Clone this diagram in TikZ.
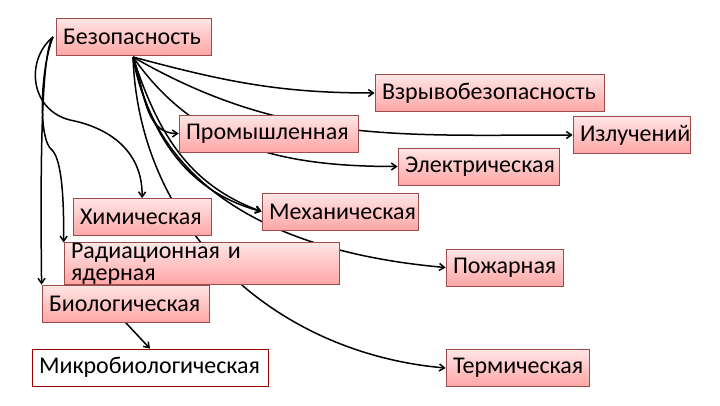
\documentclass[tikz,border=0pt]{standalone}
\usepackage{fontspec}
\setmainfont{Carlito}[Scale=1.2]
\usetikzlibrary{arrows.meta}
\pgfdeclarelayer{bg}
\pgfsetlayers{bg,main}
\begin{document}
\begin{tikzpicture}[x=1pt,y=-1pt,
  box/.style={draw=red!45!black!70, line width=0.8pt, top color=red!10, bottom color=red!35, minimum height=37pt, inner ysep=0pt, inner xsep=7pt, align=left, font=\fontsize{20}{22}\selectfont},
  wbox/.style={box, top color=white, bottom color=white, draw=red!60!black},
  con/.style={line width=1.5pt, -{Straight Barb[length=5pt,width=7pt]}}]
\useasboundingbox (0,0) rectangle (720,405);
\node[box, text width=141pt] (bez) at (133.5,36.5) {Безопасность};
\node[box, text width=215pt] (vzr) at (489.5,93) {Взрывобезопасность};
\node[box, text width=103pt] (izl) at (631.5,135) {Излучений};
\node[box, text width=165pt] (prom) at (268.5,133.5) {Промышленная};
\node[box, text width=147pt] (el) at (478.5,166.5) {Электрическая};
\node[box, text width=142pt] (meh) at (340,211.5) {Механическая};
\node[box, text width=124pt] (him) at (142,217) {Химическая};
\node[box, text width=261pt] (rad) at (201.5,263.5) {Радиационная и ядерная};
\node[box, text width=103pt] (pozh) at (504.5,267.5) {Пожарная};
\node[box, text width=153pt] (bio) at (125.5,303.5) {Биологическая};
\node[wbox, text width=222pt] (mikro) at (150,367.5) {Микробиологическая};
\node[box, text width=129pt] (term) at (517.5,368) {Термическая};
\coordinate (p) at (133,57);
\coordinate (l) at (53,37);
\begin{pgfonlayer}{bg}
\draw[con] (p) to[out=-15,in=180] (vzr.west);
\draw[con] (p) to[out=-30,in=180] (izl.west);
\draw[con] (p) to[out=-70,in=180] (prom.west);
\draw[con] (p) to[out=-55,in=180] (el.west);
\draw[con] (p) to[out=-78,in=165] (meh.west);
\draw[con] (p) to[out=-72,in=160] (meh.west);
\draw[con] (p) to[out=-80,in=175] (pozh.west);
\draw[con] (p) to[out=-88,in=175] (term.west);
\draw[con] (l) .. controls (25,60) and (30,110) .. (70,120) .. controls (120,130) and (143,160) .. (him.north);
\draw[con] (l) .. controls (40,70) and (38,140) .. (52,150) .. controls (62,160) and (64,200) .. (rad.north west);
\draw[con] (l) .. controls (42,50) and (40,150) .. (bio.north west);
\draw[con] (bio.south) -- (mikro.north);
\end{pgfonlayer}
\end{tikzpicture}
\end{document}
